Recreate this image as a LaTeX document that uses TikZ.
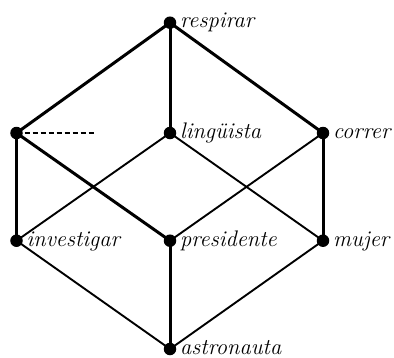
\documentclass[tikz,border=0pt]{standalone}
\usetikzlibrary{backgrounds}
\tikzset{
  dot/.style={circle,fill=black,inner sep=0pt,minimum size=12.5bp},
  lab/.style={anchor=base west,inner sep=0pt,font=\fontsize{22.6}{26}\selectfont\itshape},
  thickedge/.style={line width=3bp},
  thinedge/.style={line width=1.9bp},
}
\begin{document}
\begin{tikzpicture}[x=1bp,y=-1bp]
\useasboundingbox (0,0) rectangle (394,358);
\node[dot] (r) at (170,22.7) {};
\node[dot] (l) at (16.5,133) {};
\node[dot] (li) at (170,133) {};
\node[dot] (c) at (323,133) {};
\node[dot] (i) at (16.5,240.7) {};
\node[dot] (p) at (170,240.7) {};
\node[dot] (m) at (323,240.7) {};
\node[dot] (a) at (170,349) {};
\coordinate (dend) at (94,133);
\begin{pgfonlayer}{background}
\draw[thickedge] (r.center) -- (l.center);
\draw[thickedge] (r.center) -- (li.center);
\draw[thickedge] (r.center) -- (c.center);
\draw[thickedge] (l.center) -- (i.center);
\draw[thickedge] (l.center) -- (p.center);
\draw[thinedge] (li.center) -- (i.center);
\draw[thinedge] (li.center) -- (m.center);
\draw[thinedge] (c.center) -- (p.center);
\draw[thickedge] (c.center) -- (m.center);
\draw[thinedge] (i.center) -- (a.center);
\draw[thickedge] (p.center) -- (a.center);
\draw[thinedge] (m.center) -- (a.center);
\draw[line width=1.5bp,dash pattern=on 5bp off 3bp] (l.center) -- (dend);
\end{pgfonlayer}
\node[lab] (tr) at ([xshift=10bp,yshift=-5bp]r.center) {respirar};
\node[lab] (tli) at ([xshift=10bp,yshift=-5.5bp]li.center) {lingüista};
\node[lab] (tc) at ([xshift=10bp,yshift=-5.5bp]c.center) {correr};
\node[lab] (ti) at ([xshift=10bp,yshift=-6bp]i.center) {investigar};
\node[lab] (tp) at ([xshift=10bp,yshift=-6bp]p.center) {presidente};
\node[lab] (tm) at ([xshift=10bp,yshift=-6bp]m.center) {mujer};
\node[lab] (ta) at ([xshift=10bp,yshift=-5bp]a.center) {astronauta};
\end{tikzpicture}
\end{document}
